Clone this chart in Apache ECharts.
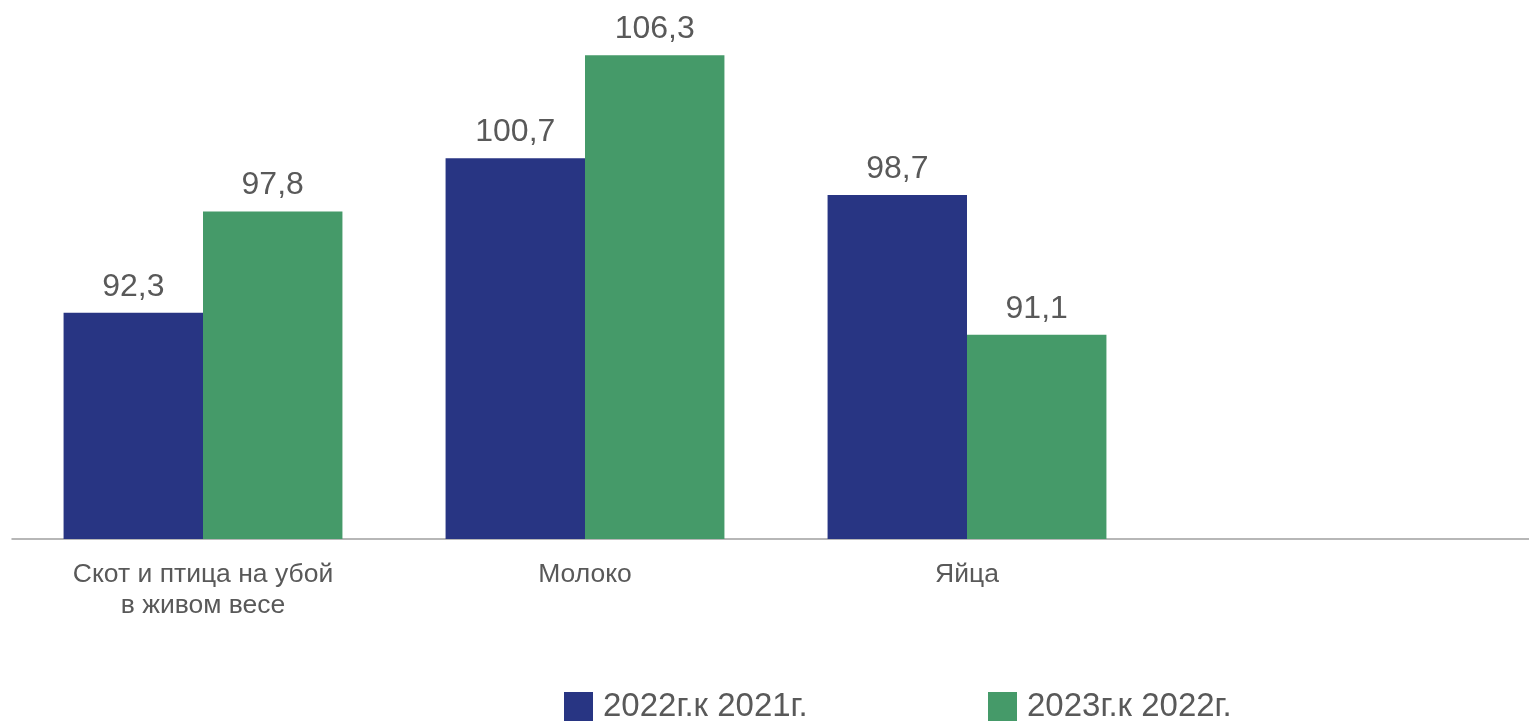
<!DOCTYPE html>
<html>
<head>
<meta charset="utf-8">
<script src="https://cdn.jsdelivr.net/npm/echarts@6/dist/echarts.min.js"></script>
<style>html,body{margin:0;padding:0;background:#fff;overflow:hidden}#c{width:1540px;height:721px}</style>
</head>
<body>
<div id="c"></div>
<script>
const categories = ['Скот и птица на убой\nв живом весе', 'Молоко', 'Яйца', ''];
const seriesNames = ['2022г.к 2021г.', '2023г.к 2022г.'];
const values2022 = [92.3, 100.7, 98.7, null];
const values2023 = [97.8, 106.3, 91.1, null];

const chart = echarts.init(document.getElementById('c'));
const labelStyle = {
  show: true, position: 'top', distance: 10,
  fontFamily: 'Liberation Sans', fontSize: 32, color: '#595959',
  formatter: p => p.value == null ? '' : String(p.value.toFixed(1)).replace('.', ',')
};
const legendText = { fontFamily: 'Liberation Sans', fontSize: 33, color: '#595959', padding: [0, 0, 0, 5] };
chart.setOption({
  animation: false,
  textStyle: { fontFamily: 'Liberation Sans' },
  grid: { left: 12, top: 0, right: 0, bottom: 182, containLabel: false },
  legend: [
    { data: [seriesNames[0]], left: 559, top: 685, itemWidth: 29, itemHeight: 29, icon: 'rect', textStyle: legendText },
    { data: [seriesNames[1]], left: 983, top: 685, itemWidth: 29, itemHeight: 29, icon: 'rect', textStyle: legendText }
  ],
  xAxis: {
    type: 'category', data: categories,
    axisLine: { lineStyle: { color: '#a0a0a0', width: 1.5 } },
    axisTick: { show: false },
    axisLabel: { interval: 0, margin: 20, fontFamily: 'Liberation Sans', fontSize: 26.5, lineHeight: 31, color: '#595959' }
  },
  yAxis: { type: 'value', min: 80, max: 109.3, show: false, splitLine: { show: false } },
  series: [
    { name: seriesNames[0], type: 'bar', data: values2022, barGap: 0, barCategoryGap: '27%',
      itemStyle: { color: '#283583' }, label: labelStyle },
    { name: seriesNames[1], type: 'bar', data: values2023, barGap: 0, barCategoryGap: '27%',
      itemStyle: { color: '#459A69' }, label: labelStyle }
  ]
});
</script>
</body>
</html>
